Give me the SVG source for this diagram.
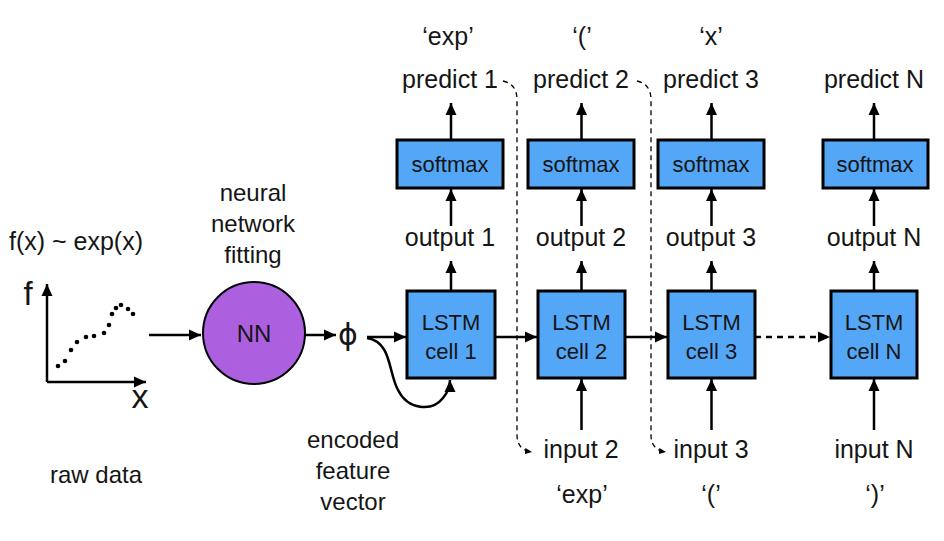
<svg xmlns="http://www.w3.org/2000/svg" width="944" height="541" viewBox="0 0 944 541">
<style>
text{font-family:"Liberation Sans",Arial,sans-serif;fill:#151515;text-anchor:middle}
.lbl{font-size:25px}
.box{fill:#54A6F6;stroke:#000;stroke-width:3}
.bt{font-size:22px}
.ar{stroke:#000;stroke-width:2.5;fill:none;marker-end:url(#ah)}
.dash{stroke:#000;stroke-width:1.3;fill:none;stroke-dasharray:5,4;marker-end:url(#sh)}
</style>
<defs>
<marker id="ah" markerUnits="userSpaceOnUse" markerWidth="14" markerHeight="14" viewBox="0 0 14 14" refX="13" refY="7" orient="auto"><path d="M1,1.5 L13,7 L1,12.5 Z" fill="#000"/></marker>
<marker id="sh" markerUnits="userSpaceOnUse" markerWidth="8" markerHeight="8" viewBox="0 0 8 8" refX="7" refY="4" orient="auto"><path d="M0,1 L7,4 L0,7 Z" fill="#000"/></marker>
</defs>
<g id="plot">
<text x="76" y="250" style="font-size:25px">f(x) ~ exp(x)</text>
<text x="28" y="305" style="font-size:33px">f</text>
<text x="140" y="408" style="font-size:34px">x</text>
<path d="M47,382 V284" class="ar"/>
<path d="M47,382 H146" class="ar"/>
<g fill="#000">
<circle cx="58" cy="366" r="2.3"/><circle cx="65" cy="361" r="2.3"/><circle cx="71" cy="350" r="2.3"/><circle cx="77" cy="342" r="2.3"/><circle cx="86" cy="337" r="2.3"/><circle cx="94" cy="336" r="2.3"/><circle cx="104" cy="333" r="2.3"/><circle cx="109" cy="325" r="2.3"/><circle cx="112" cy="314" r="2.3"/><circle cx="116" cy="308" r="2.3"/><circle cx="121" cy="305" r="2.3"/><circle cx="128" cy="309" r="2.3"/><circle cx="133" cy="314" r="2.3"/>
</g>
<text x="96" y="483" class="lbl" style="font-size:24px">raw data</text>
</g>
<g id="nn">
<text x="253" y="201" class="lbl" style="font-size:24px">neural</text>
<text x="253" y="232" class="lbl" style="font-size:24px">network</text>
<text x="253" y="263" class="lbl" style="font-size:24px">fitting</text>
<circle cx="254" cy="333" r="51" fill="#AC60E0" stroke="#000" stroke-width="2"/>
<text x="254" y="342" style="font-size:24px">NN</text>
</g>
<g id="phi">
<text x="348" y="345" style="font-size:30px;font-family:'DejaVu Sans',sans-serif">ϕ</text>
<text x="353" y="448" class="lbl" style="font-size:24px">encoded</text>
<text x="353" y="479" class="lbl" style="font-size:24px">feature</text>
<text x="353" y="510" class="lbl" style="font-size:24px">vector</text>
</g>
<g id="col1">
<rect x="407" y="291" width="88" height="87" class="box"/>
<text x="451" y="330" class="bt">LSTM</text>
<text x="451" y="359" class="bt">cell 1</text>
<rect x="397" y="140" width="106" height="48" class="box"/>
<text x="450" y="172" class="bt">softmax</text>
<text x="450" y="246" class="lbl">output 1</text>
<text x="450" y="88" class="lbl">predict 1</text>
<text x="448" y="45" class="lbl">‘exp’</text>
</g>
<g id="col2">
<rect x="538" y="291" width="87" height="87" class="box"/>
<text x="581.5" y="330" class="bt">LSTM</text>
<text x="581.5" y="359" class="bt">cell 2</text>
<rect x="528" y="140" width="106" height="48" class="box"/>
<text x="581" y="172" class="bt">softmax</text>
<text x="581" y="246" class="lbl">output 2</text>
<text x="581" y="88" class="lbl">predict 2</text>
<text x="582" y="45" class="lbl">‘(’</text>
<text x="581" y="458" class="lbl">input 2</text>
<text x="582" y="503" class="lbl">‘exp’</text>
</g>
<g id="col3">
<rect x="668" y="291" width="87" height="87" class="box"/>
<text x="711.5" y="330" class="bt">LSTM</text>
<text x="711.5" y="359" class="bt">cell 3</text>
<rect x="658" y="140" width="106" height="48" class="box"/>
<text x="711" y="172" class="bt">softmax</text>
<text x="711" y="246" class="lbl">output 3</text>
<text x="711" y="88" class="lbl">predict 3</text>
<text x="711" y="45" class="lbl">‘x’</text>
<text x="711" y="458" class="lbl">input 3</text>
<text x="711" y="503" class="lbl">‘(’</text>
</g>
<g id="colN">
<rect x="831" y="291" width="86" height="87" class="box"/>
<text x="874" y="330" class="bt">LSTM</text>
<text x="874" y="359" class="bt">cell N</text>
<rect x="823" y="140" width="105" height="48" class="box"/>
<text x="875" y="172" class="bt">softmax</text>
<text x="874" y="246" class="lbl">output N</text>
<text x="874" y="88" class="lbl">predict N</text>
<text x="874" y="458" class="lbl">input N</text>
<text x="875" y="503" class="lbl">‘)’</text>
</g>
<g id="connectors">
<path d="M149,335 H201" class="ar"/>
<path d="M305,335 H336" class="ar"/>
<path d="M367,337 H406" class="ar"/>
<path d="M367,338 C392,342 388,372 398,390 C408,410 432,412 443,398 C448,392 450,386 450,380" class="ar" stroke-width="2"/>
<path d="M495,337 H537" class="ar"/>
<path d="M625,337 H667" class="ar"/>
<path d="M755,337 H830" class="ar" stroke-dasharray="6,5"/>
<path d="M451,291 V261" class="ar"/>
<path d="M451,226 V189" class="ar"/>
<path d="M451,140 V103" class="ar"/>
<path d="M581.5,291 V261" class="ar"/>
<path d="M581.5,226 V189" class="ar"/>
<path d="M581.5,140 V103" class="ar"/>
<path d="M581.5,430 V379" class="ar"/>
<path d="M711.5,291 V261" class="ar"/>
<path d="M711.5,226 V189" class="ar"/>
<path d="M711.5,140 V103" class="ar"/>
<path d="M711.5,430 V379" class="ar"/>
<path d="M874,291 V261" class="ar"/>
<path d="M874,226 V189" class="ar"/>
<path d="M874,140 V103" class="ar"/>
<path d="M874,430 V379" class="ar"/>
<path d="M503,81 Q517,84 517,100 V435 Q517,450 532,452" class="dash"/>
<path d="M637,81 Q651,84 651,100 V435 Q651,450 666,452" class="dash"/>
</g>
</svg>
